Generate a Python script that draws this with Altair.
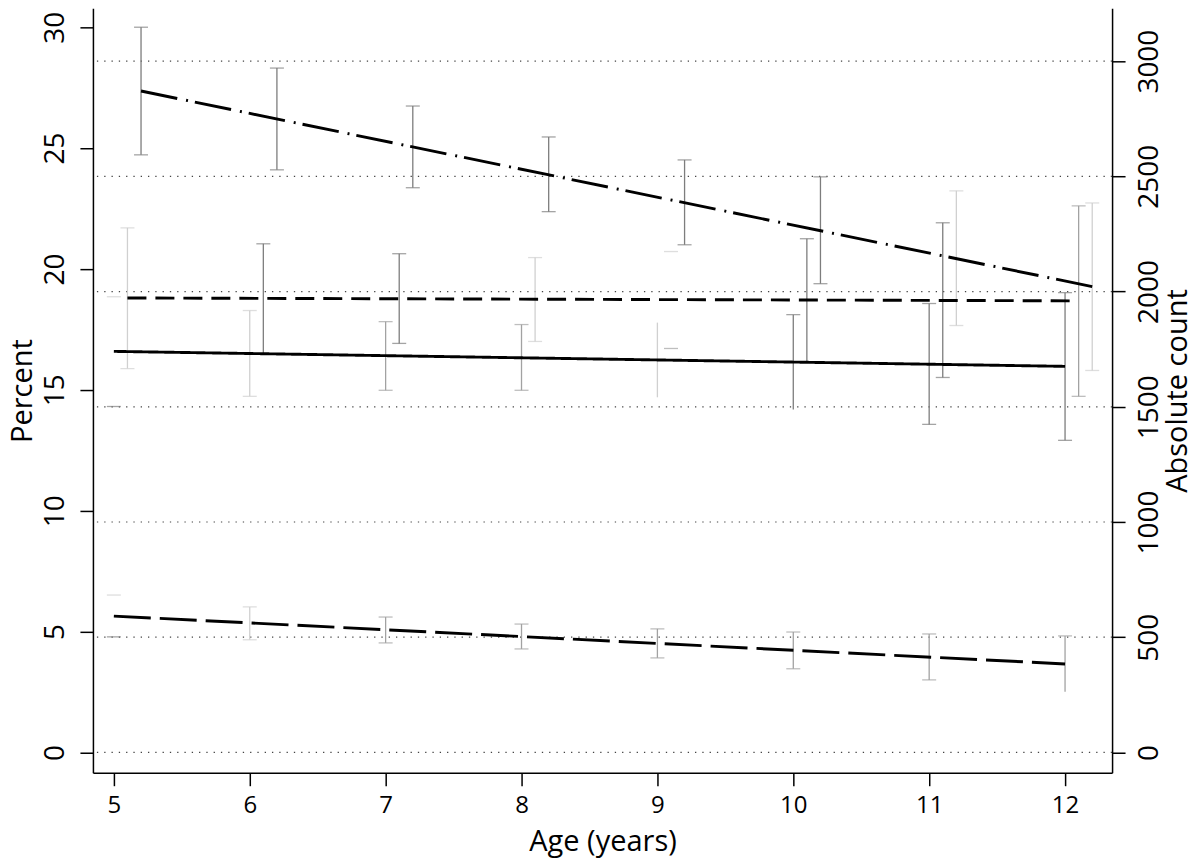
import altair as alt
import pandas as pd

# ---------------- data ----------------
ages = [5, 6, 7, 8, 9, 10, 11, 12]
pct_ticks = [0, 5, 10, 15, 20, 25, 30]
count_ticks = [0, 500, 1000, 1500, 2000, 2500, 3000]

# regression lines (percent)
line_names = ["solid", "dashed", "dashdot", "longdash"]
line_x0 = [5.0, 5.1, 5.2, 5.0]
line_x1 = [12.0, 12.1, 12.2, 12.0]
line_y0 = [16.59, 18.80, 27.36, 5.64]
line_y1 = [15.97, 18.68, 19.27, 3.66]

# horizontal dodge of each series' error bars (years)
bar_offset = [0.0, 0.1, 0.2, 0.0]

# confidence intervals (percent) per age
solid_lo = [14.31, 14.73, 14.98, 14.98, 14.69, 14.19, 13.57, 12.91]
solid_hi = [18.85, 18.28, 17.82, 17.70, 17.78, 18.11, 18.57, 19.02]
dashed_lo = [15.88, 16.50, 16.92, 17.00, 16.71, 16.17, 15.51, 14.73]
dashed_hi = [21.70, 21.04, 20.63, 20.47, 20.72, 21.25, 21.91, 22.61]
dashdot_lo = [24.72, 24.10, 23.36, 22.37, 21.00, 19.39, 17.66, 15.80]
dashdot_hi = [30.00, 28.31, 26.74, 25.46, 24.51, 23.81, 23.23, 22.73]
long_lo = [4.78, 4.66, 4.53, 4.28, 3.91, 3.46, 3.00, 2.51]
long_hi = [6.51, 6.02, 5.60, 5.31, 5.11, 4.98, 4.90, 4.82]

# grey shade of stem / top cap / bottom cap ("-" = not drawn)
solid_stem = ["-", "l", "m", "m", "l", "d", "d", "d"]
solid_top = ["l", "l", "m", "m", "-", "d", "d", "d"]
solid_bot = ["d", "l", "m", "m", "-", "-", "d", "d"]
dashed_stem = ["l", "d", "d", "l", "-", "d", "d", "m"]
dashed_top = ["l", "d", "d", "l", "l", "d", "d", "m"]
dashed_bot = ["l", "-", "d", "l", "m", "-", "d", "m"]
dashdot_stem = ["d", "d", "d", "d", "d", "d", "l", "l"]
dashdot_top = ["d", "d", "d", "d", "d", "d", "l", "l"]
dashdot_bot = ["d", "d", "d", "d", "d", "d", "l", "l"]
long_stem = ["-", "l", "m", "m", "m", "m", "m", "m"]
long_top = ["l", "l", "m", "m", "m", "m", "m", "m"]
long_bot = ["d", "l", "m", "m", "m", "m", "m", "-"]

shade = {"d": "#7d7d7d", "m": "#a2a2a2", "l": "#d0d0d0"}

# ---------------- tables ----------------
lines_df = pd.DataFrame(
    [{"series": n, "x": a, "y": b} for n, a, b in zip(line_names, line_x0, line_y0)]
    + [{"series": n, "x": a, "y": b} for n, a, b in zip(line_names, line_x1, line_y1)]
)

series_bars = [
    (solid_lo, solid_hi, solid_stem, solid_top, solid_bot, bar_offset[0]),
    (dashed_lo, dashed_hi, dashed_stem, dashed_top, dashed_bot, bar_offset[1]),
    (dashdot_lo, dashdot_hi, dashdot_stem, dashdot_top, dashdot_bot, bar_offset[2]),
    (long_lo, long_hi, long_stem, long_top, long_bot, bar_offset[3]),
]
stems, caps = [], []
for lo, hi, st, tp, bt, off in series_bars:
    for i, age in enumerate(ages):
        x = age + off
        if st[i] != "-":
            stems.append({"x": x, "lo": lo[i], "hi": hi[i], "c": shade[st[i]]})
        if tp[i] != "-":
            caps.append({"x": x, "y": hi[i], "c": shade[tp[i]]})
        if bt[i] != "-":
            caps.append({"x": x, "y": lo[i], "c": shade[bt[i]]})
stems_df = pd.DataFrame(stems)
caps_df = pd.DataFrame(caps)
grid_df = pd.DataFrame({"count": count_ticks})

# ---------------- scales & axes ----------------
FONT = "Open Sans"
x_scale = alt.Scale(domain=[4.846, 12.346], nice=False, zero=False)
x_axis = alt.Axis(values=ages, format="d", title="Age (years)", tickSize=13,
                  labelFontSize=24, titleFontSize=29,
                  labelPadding=8, titleY=78, titleBaseline="alphabetic")
y_scale = alt.Scale(domain=[-0.84, 30.78], nice=False, zero=False)
y_axis = alt.Axis(values=pct_ticks, title="Percent", orient="left", tickSize=13,
                  labelFontSize=28, titleFontSize=29,
                  labelAngle=270, labelAlign="center", labelBaseline="bottom",
                  labelPadding=10, titlePadding=4)
c_scale = alt.Scale(domain=[-88, 3229], nice=False, zero=False)
c_axis = alt.Axis(values=count_ticks, format="d", title="Absolute count",
                  orient="right", tickSize=13,
                  labelFontSize=28, titleFontSize=29,
                  labelAngle=270, labelAlign="center",
                  labelBaseline="top", labelPadding=10, titleAngle=270,
                  titleBaseline="top", titlePadding=0)

X = alt.X("x:Q", scale=x_scale, axis=x_axis)

grid = alt.Chart(grid_df).mark_rule(color="#444444", strokeWidth=1.2,
                                    strokeDash=[1.3, 6]).encode(
    y=alt.Y("count:Q", scale=c_scale, axis=c_axis)
)

stem_layer = alt.Chart(stems_df).mark_rule(strokeWidth=1.3).encode(
    x=X,
    y=alt.Y("lo:Q", scale=y_scale, axis=y_axis),
    y2="hi:Q",
    color=alt.Color("c:N", scale=None),
)

cap_layer = alt.Chart(caps_df).mark_tick(orient="horizontal", size=14,
                                         thickness=1.3).encode(
    x=X,
    y=alt.Y("y:Q", scale=y_scale, axis=y_axis),
    color=alt.Color("c:N", scale=None),
)

line_layer = alt.Chart(lines_df).mark_line(color="black", strokeWidth=2.9,
                                           strokeCap="butt").encode(
    x=X,
    y=alt.Y("y:Q", scale=y_scale, axis=y_axis),
    detail="series:N",
    strokeDash=alt.StrokeDash(
        "series:N",
        scale=alt.Scale(domain=line_names,
                        range=[[1, 0], [19, 9], [37, 9, 2, 7], [37, 9]]),
        legend=None,
    ),
)

pct = alt.layer(stem_layer, cap_layer, line_layer)

chart = (
    alt.layer(grid, pct)
    .resolve_scale(y="independent")
    .properties(width=1020, height=765,
                autosize=alt.AutoSizeParams(type="none"),
                padding={"left": 85, "top": 0, "right": 80, "bottom": 88})
    .configure_view(stroke=None)
    .configure_axis(domainColor="black", tickColor="black", labelColor="black",
                    titleColor="black", labelFont=FONT, titleFont=FONT,
                    titleFontWeight="normal",
                    domainWidth=1.5, tickWidth=1.5, grid=False)
)

chart.save("out.html", embed_options={"renderer": "svg", "actions": False})
